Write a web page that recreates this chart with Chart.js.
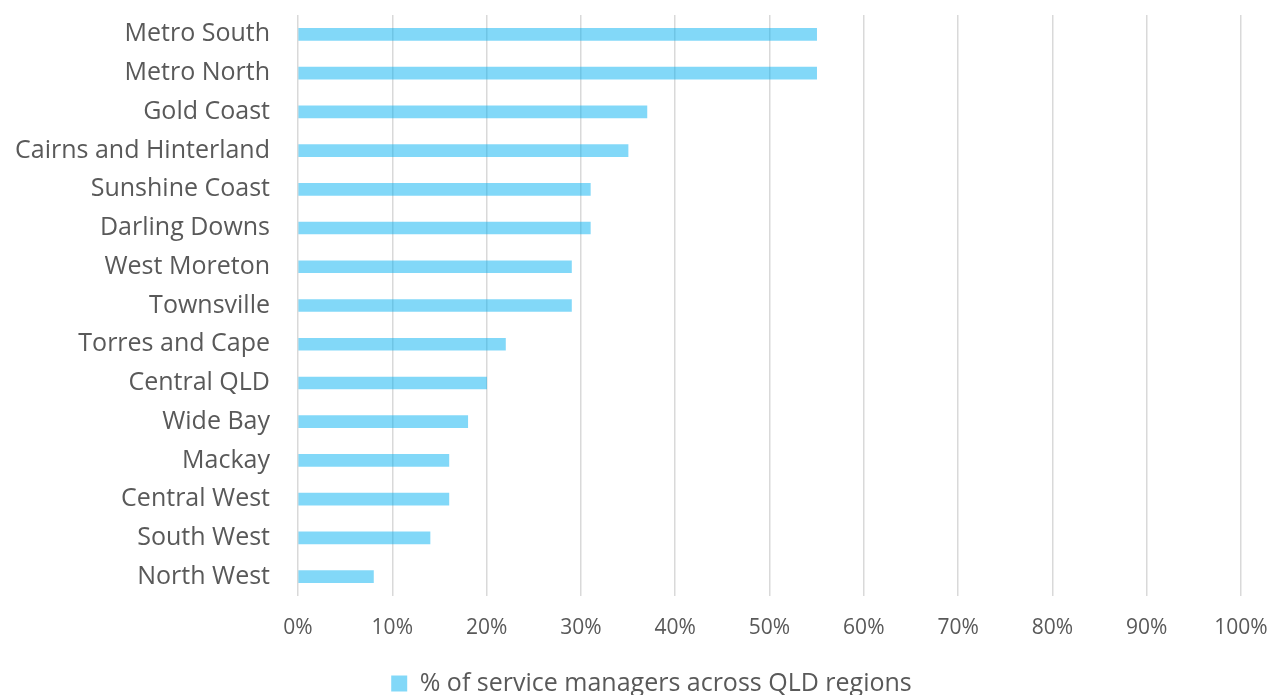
<!DOCTYPE html>
<html>
<head>
<meta charset="utf-8">
<script src="https://cdn.jsdelivr.net/npm/chart.js@4"></script>
<style>
  html, body { margin: 0; padding: 0; background: #ffffff; overflow: hidden; }
  #wrap { width: 1281px; height: 695px; }
</style>
</head>
<body>
<div id="wrap"><canvas id="regions_chart" width="1281" height="695"></canvas></div>
<script>
// regions, top to bottom
var regions = ['Metro South', 'Metro North', 'Gold Coast', 'Cairns and Hinterland', 'Sunshine Coast',
  'Darling Downs', 'West Moreton', 'Townsville', 'Torres and Cape', 'Central QLD',
  'Wide Bay', 'Mackay', 'Central West', 'South West', 'North West'];
var pctManagers = [55, 55, 37, 35, 31, 31, 29, 29, 22, 20, 18, 16, 16, 14, 8];
var seriesLabel = '% of service managers across QLD regions';

// legend in the original sits a little right of the page centre
const legendShift = {
    id: 'legendShift',
    afterLayout: function (chart) {
        if (chart.legend) { chart.legend.left = 22; }
    }
};

const dataRegions = {
    labels: regions,
    datasets: [{
        label: seriesLabel,
        backgroundColor: 'rgba(0, 176, 240, 0.49)',
        borderWidth: 0,
        barThickness: 12,
        data: pctManagers,
    }]
};

const configRegions = {
    type: 'bar',
    data: dataRegions,
    plugins: [legendShift],
    options: {
        indexAxis: 'y',
        responsive: false,
        animation: false,
        layout: {
            padding: { top: 15, right: 0, bottom: -11, left: 0 }
        },
        scales: {
            x: {
                min: 0,
                max: 100,
                border: { display: false },
                grid: { color: '#d9d9d9', lineWidth: 1.5, drawTicks: false },
                ticks: {
                    stepSize: 10,
                    padding: 19,
                    color: '#595959',
                    font: { family: 'Open Sans', size: 21 },
                    callback: function (v) { return v + '%'; }
                },
                afterFit: function (scale) {
                    scale.height = 65;
                    scale.paddingLeft = 0;
                    scale.paddingRight = 0;
                }
            },
            y: {
                border: { display: false },
                grid: { display: false, drawTicks: false },
                ticks: {
                    padding: 28,
                    color: '#595959',
                    font: { family: 'Open Sans', size: 25 }
                },
                afterFit: function (scale) {
                    scale.width = 298;
                    scale.paddingTop = 0;
                    scale.paddingBottom = 0;
                }
            },
            // empty spacer on the right
            yRight: {
                type: 'category',
                axis: 'y',
                position: 'right',
                border: { display: false },
                grid: { display: false, drawTicks: false },
                ticks: { display: false },
                afterFit: function (scale) {
                    scale.width = 40;
                    scale.paddingTop = 0;
                    scale.paddingBottom = 0;
                }
            }
        },
        plugins: {
            legend: {
                position: 'bottom',
                labels: {
                    boxWidth: 16,
                    boxHeight: 16,
                    padding: 10,
                    color: '#595959',
                    font: { family: 'Open Sans', size: 25 }
                }
            },
            tooltip: { enabled: false }
        }
    }
};

const myChartRegions = new Chart(
    document.getElementById('regions_chart'),
    configRegions
);
</script>
</body>
</html>
